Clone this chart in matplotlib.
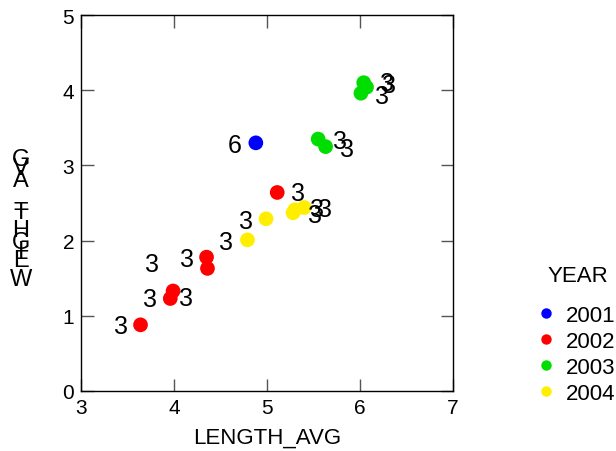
import matplotlib
matplotlib.use("Agg")
from matplotlib import pyplot as plt
from matplotlib.lines import Line2D

plt.rcParams['font.family'] = ['Liberation Sans', 'DejaVu Sans']

# data
years = [2001, 2002, 2003, 2004]
colors = ['#0000FF', '#FF0000', '#00DD00', '#FFEE00']

year = [2001,
        2002, 2002, 2002, 2002, 2002, 2002,
        2003, 2003, 2003, 2003, 2003,
        2004, 2004, 2004, 2004, 2004]
length_avg = [4.88,
              3.64, 3.96, 3.99, 4.35, 4.36, 5.11,
              5.55, 5.63, 6.04, 6.07, 6.01,
              4.79, 4.99, 5.28, 5.30, 5.40]
weight_avg = [3.30,
              0.88, 1.23, 1.33, 1.78, 1.63, 2.64,
              3.35, 3.25, 4.10, 4.04, 3.96,
              2.01, 2.29, 2.37, 2.41, 2.44]
counts = [6,
          3, 3, 3, 3, 3, 3,
          3, 3, 3, 3, 3,
          3, 3, 3, 3, 3]

# where each count label sits relative to its point (pixels)
label_offsets = [(-21, -2),
                 (-20, -1), (-20, 0), (13, -7), (-20, -2), (-55, 4), (21, -1),
                 (22, -2), (21, -2), (23, 0), (22, 2), (21, -3),
                 (-21, -2), (-20, -2), (22, -2), (22, 1), (21, -1)]

W, H = 616, 452
fig = plt.figure(figsize=(W / 100, H / 100), dpi=100)
ax = fig.add_axes([81 / W, 60 / H, 372 / W, 376 / H])

for yr, c in zip(years, colors):
    xs = [x for x, y_ in zip(length_avg, year) if y_ == yr]
    ys = [w for w, y_ in zip(weight_avg, year) if y_ == yr]
    ax.scatter(xs, ys, s=112, color=c, edgecolors='none', zorder=3)

for x, y, n, off in zip(length_avg, weight_avg, counts, label_offsets):
    ax.annotate(str(n), (x, y), xytext=off, textcoords='offset pixels',
                ha='center', va='center', fontsize=18, zorder=4)

ax.set_xlim(3, 7)
ax.set_ylim(0, 5)
ax.set_xticks([3, 4, 5, 6, 7])
ax.set_yticks([0, 1, 2, 3, 4, 5])
ax.tick_params(direction='in', length=9, width=1, color='#555555',
               top=True, right=True, labelsize=15, pad=5)
for sp in ax.spines.values():
    sp.set_linewidth(1)
ax.set_xlabel('LENGTH_AVG', fontsize=16, labelpad=7)

# y label drawn as stacked upright letters, like the original
ylab_chars = list('GVA_THGIEW')
ylab_base = [166, 175, 187, 205, 219, 237, 249, 258, 267, 286]
for ch, b in zip(ylab_chars, ylab_base):
    fig.text(21 / W, 1 - b / H, ch, ha='center', va='baseline', fontsize=17)

# legend, placed by hand
fig.text(578 / W, 1 - 274 / H, 'YEAR', ha='center', va='center_baseline',
         fontsize=16)
leg_rows = [314, 340, 366, 392]
for yr, c, r in zip(years, colors, leg_rows):
    fig.add_artist(Line2D([546 / W], [1 - r / H], marker='o', markersize=7.5,
                          markerfacecolor=c, markeredgecolor='none',
                          linestyle='none', transform=fig.transFigure))
    fig.text(566 / W, 1 - r / H, str(yr), ha='left', va='center_baseline',
             fontsize=16)

fig.savefig('out.png', dpi=100)
